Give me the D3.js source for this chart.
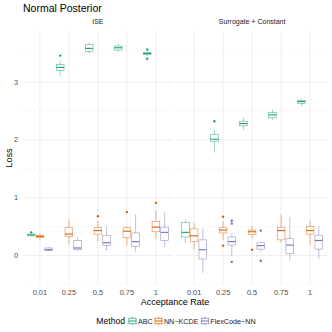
<!DOCTYPE html>
<html lang="en">
<head>
<meta charset="UTF-8">
<title>Normal Posterior</title>
<script src="https://d3js.org/d3.v7.min.js"></script>
<style>
  body, html { margin: 0; padding: 0; background: #fff; }
  svg { display: block; font-family: "Liberation Sans", Arial, sans-serif; }
  .grid-major { stroke: #ebebeb; stroke-width: 0.8; }
  .grid-minor { stroke: #f3f3f3; stroke-width: 0.5; }
  .tick-label { fill: #4d4d4d; font-size: 7.4px; }
</style>
</head>
<body>
<svg></svg>
<script>
const categories = ["0.01", "0.25", "0.5", "0.75", "1"];
const panels = ["ISE", "Surrogate + Constant"];
const methods = ["ABC", "NN\u2212KCDE", "FlexCode\u2212NN"];
const colors = ["#1B9E77", "#D95F02", "#7570B3"];

// each box: [lower whisker, q1, median, q3, upper whisker]
const abcIse = [[0.33, 0.34, 0.355, 0.37, 0.38], [3.10, 3.20, 3.25, 3.30, 3.37], [3.49, 3.53, 3.58, 3.65, 3.68], [3.52, 3.55, 3.59, 3.62, 3.66], [3.45, 3.47, 3.49, 3.51, 3.53]];
const kcdeIse = [[0.28, 0.31, 0.33, 0.35, 0.38], [0.20, 0.33, 0.37, 0.48, 0.62], [0.25, 0.37, 0.43, 0.48, 0.60], [0.18, 0.31, 0.42, 0.48, 0.50], [0.29, 0.41, 0.49, 0.59, 0.78]];
const flexIse = [[0.07, 0.09, 0.10, 0.13, 0.14], [0.08, 0.10, 0.13, 0.26, 0.32], [0.08, 0.17, 0.22, 0.35, 0.50], [0.07, 0.16, 0.24, 0.39, 0.71], [0.14, 0.26, 0.40, 0.49, 0.75]];
const abcSur = [[0.22, 0.32, 0.40, 0.57, 0.62], [1.78, 1.97, 2.01, 2.09, 2.18], [2.17, 2.24, 2.28, 2.32, 2.38], [2.34, 2.38, 2.43, 2.47, 2.52], [2.58, 2.63, 2.66, 2.68, 2.71]];
const kcdeSur = [[0.10, 0.24, 0.34, 0.46, 0.56], [0.27, 0.39, 0.44, 0.48, 0.59], [0.30, 0.36, 0.41, 0.44, 0.51], [0.22, 0.27, 0.43, 0.49, 0.71], [0.18, 0.37, 0.43, 0.50, 0.60]];
const flexSur = [[-0.30, -0.06, 0.10, 0.27, 0.47], [-0.01, 0.18, 0.24, 0.32, 0.38], [0.07, 0.11, 0.17, 0.22, 0.24], [-0.09, 0.03, 0.18, 0.29, 0.66], [-0.06, 0.11, 0.26, 0.35, 0.50]];

// outliers: [category index, value]
const abcIseOut = [[0, 0.40], [1, 3.455], [4, 3.56], [4, 3.40]];
const kcdeIseOut = [[2, 0.68], [3, 0.75], [4, 0.91]];
const flexIseOut = [];
const abcSurOut = [[1, 2.32]];
const kcdeSurOut = [[1, 0.67], [1, 0.17], [2, 0.10]];
const flexSurOut = [[1, 0.60], [1, 0.55], [1, -0.11], [2, 0.43], [2, -0.09]];

const boxes = [[abcIse, kcdeIse, flexIse], [abcSur, kcdeSur, flexSur]];
const outliers = [[abcIseOut, kcdeIseOut, flexIseOut], [abcSurOut, kcdeSurOut, flexSurOut]];

const W = 332, H = 332;
const svg = d3.select("svg").attr("width", W).attr("height", H);

const yTop = 31, yBottom = 285;
const panelX = [[22.5, 173.3], [176.7, 327.5]];

const y = d3.scaleLinear().domain([-0.51, 3.88]).range([yBottom, yTop]);

// title
svg.append("text").attr("x", 23).attr("y", 12)
  .attr("font-size", 10.5).attr("fill", "#000").text("Normal Posterior");

// y axis
svg.append("g").selectAll("text").data([0, 1, 2, 3]).join("text")
  .attr("class", "tick-label").attr("x", 18).attr("y", d => y(d))
  .attr("dy", "0.35em").attr("text-anchor", "end").text(d => d);
svg.append("text").attr("transform", `translate(9,${(yTop + yBottom) / 2}) rotate(-90)`)
  .attr("text-anchor", "middle").attr("dy", "0.35em").attr("font-size", 9).text("Loss");

panels.forEach((name, p) => {
  // category centers with 0.6 expansion on each side
  const xs = d3.scalePoint().domain(categories).range(panelX[p]).padding(0.6);
  const step = xs.step();
  const g = svg.append("g");

  // grid
  g.selectAll(".ymin").data([-0.5, 0.5, 1.5, 2.5, 3.5]).join("line")
    .attr("class", "grid-minor")
    .attr("x1", panelX[p][0]).attr("x2", panelX[p][1])
    .attr("y1", d => y(d)).attr("y2", d => y(d));
  g.selectAll(".ymaj").data([0, 1, 2, 3]).join("line")
    .attr("class", "grid-major")
    .attr("x1", panelX[p][0]).attr("x2", panelX[p][1])
    .attr("y1", d => y(d)).attr("y2", d => y(d));
  g.selectAll(".xmaj").data(categories).join("line")
    .attr("class", "grid-major")
    .attr("x1", d => xs(d)).attr("x2", d => xs(d))
    .attr("y1", yTop).attr("y2", yBottom);

  // strip label
  svg.append("text").attr("x", (panelX[p][0] + panelX[p][1]) / 2).attr("y", 24)
    .attr("text-anchor", "middle").attr("font-size", 7).attr("fill", "#1a1a1a").text(name);

  // x tick labels
  g.selectAll(".xl").data(categories).join("text")
    .attr("class", "tick-label").attr("x", d => xs(d)).attr("y", 292)
    .attr("dy", "0.35em").attr("text-anchor", "middle").text(d => d);

  const bw = step * 0.3;
  methods.forEach((m, k) => {
    const col = colors[k];
    const off = (k - 1) * bw;
    boxes[p][k].forEach((s, i) => {
      const cx = xs(categories[i]) + off;
      const bg = g.append("g");
      bg.append("line").attr("x1", cx).attr("x2", cx)
        .attr("y1", y(s[4])).attr("y2", y(s[3]))
        .attr("stroke", col).attr("stroke-width", 0.6).attr("stroke-opacity", 0.75);
      bg.append("line").attr("x1", cx).attr("x2", cx)
        .attr("y1", y(s[1])).attr("y2", y(s[0]))
        .attr("stroke", col).attr("stroke-width", 0.6).attr("stroke-opacity", 0.75);
      bg.append("rect").attr("x", cx - bw / 2 + 0.5).attr("width", bw - 1)
        .attr("y", y(s[3])).attr("height", y(s[1]) - y(s[3]))
        .attr("fill", "#fff").attr("stroke", col).attr("stroke-width", 0.6).attr("stroke-opacity", 0.75);
      bg.append("line").attr("x1", cx - bw / 2 + 0.5).attr("x2", cx + bw / 2 - 0.5)
        .attr("y1", y(s[2])).attr("y2", y(s[2]))
        .attr("stroke", col).attr("stroke-width", 1.1);
    });
    g.selectAll(null).data(outliers[p][k]).join("circle")
      .attr("cx", d => xs(categories[d[0]]) + off).attr("cy", d => y(d[1]))
      .attr("r", 1.2).attr("fill", col);
  });
});

// x title
svg.append("text").attr("x", 175).attr("y", 302).attr("dy", "0.35em")
  .attr("text-anchor", "middle").attr("font-size", 9).text("Acceptance Rate");

// legend
const leg = svg.append("g").attr("transform", "translate(0,321)");
leg.append("text").attr("x", 125).attr("dy", "0.35em").attr("text-anchor", "end")
  .attr("font-size", 8.6).text("Method");
const keyX = [128.3, 154.3, 200.7];
methods.forEach((m, k) => {
  const kx = keyX[k], col = colors[k];
  const kg = leg.append("g").attr("transform", `translate(${kx},0)`);
  kg.append("line").attr("x1", 4.2).attr("x2", 4.2).attr("y1", -4.3).attr("y2", 4.3)
    .attr("stroke", col).attr("stroke-width", 0.6);
  kg.append("rect").attr("x", 0.6).attr("y", -2.8).attr("width", 7.2).attr("height", 5.6)
    .attr("fill", "#fff").attr("stroke", col).attr("stroke-width", 0.7);
  kg.append("line").attr("x1", 0.6).attr("x2", 7.8).attr("y1", 0).attr("y2", 0)
    .attr("stroke", col).attr("stroke-width", 1);
  kg.append("text").attr("x", 9.6).attr("dy", "0.35em").attr("font-size", 7.2)
    .attr("fill", "#1a1a1a").text(m);
});
</script>
</body>
</html>
